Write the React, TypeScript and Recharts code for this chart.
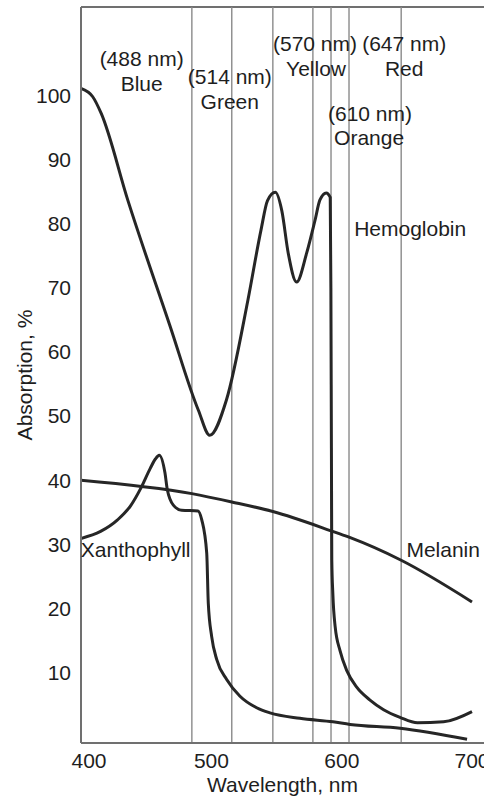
import { LineChart, Line, XAxis, YAxis, ReferenceLine, ReferenceDot } from 'recharts';

// wavelength (nm), absorption (%)
const hemoglobin: [number, number][] = [
  [400, 101.1], [409, 99.8], [415.5, 97.2], [436, 83.6], [468, 64.2], [490, 50.9],
  [498.7, 47.0], [511.5, 52.5], [528, 68.1], [538, 79.0], [543, 83.6], [549, 84.9],
  [554, 82.0], [558.9, 75.4], [565.3, 70.9], [573, 75.4], [579.4, 80.5], [583.2, 83.7],
  [588, 84.8], [591.1, 84.1], [591.6, 70], [592, 45], [592.3, 27.5], [593.1, 22.3],
  [594.9, 17.1], [598.6, 13.4], [603.8, 10.3], [611.4, 7.7], [621.6, 5.7], [632, 4.2],
  [644.6, 3.0], [658, 2.15], [678, 2.3], [699.8, 3.9],
];

const xanthophyll: [number, number][] = [
  [400, 30.9], [415, 32.0], [428, 33.8], [438, 36.0], [446, 38.8], [453, 41.8],
  [457, 43.3], [460, 43.9], [464.4, 41.1], [466.2, 38.5], [470.8, 36.1], [477.2, 35.3],
  [489.7, 35.2], [492.6, 33.8], [496.4, 28.6], [497.6, 20.8], [500.2, 15.6], [504.1, 12.0],
  [511.7, 8.9], [521.9, 6.3], [534.7, 4.5], [544.9, 3.7], [567.8, 2.85], [593.2, 2.3],
  [606.3, 1.9], [644.7, 1.3], [696, -0.42],
];

const melanin: [number, number][] = [
  [400, 40.0], [485, 37.9], [515.6, 36.6], [547.1, 35.1], [591.7, 32.1],
  [605.5, 31.1], [645.5, 27.5], [699.8, 21.0],
];

const laserLines = [485, 515.6, 547.1, 577.8, 591.7, 605.5, 645.5];

const xTicks = [400, 500, 600, 700];
const yTicks = [10, 20, 30, 40, 50, 60, 70, 80, 90, 100];

// text, wavelength, absorption at the text centre
const notes: [string, number, number][] = [
  ['(488 nm)', 446.5, 105.8], ['Blue', 446.5, 101.9],
  ['(514 nm)', 514.1, 103.0], ['Green', 514.1, 99.1],
  ['(570 nm)', 579.4, 108.1], ['Yellow', 580.2, 104.2],
  ['(647 nm)', 647.8, 108.1], ['Red', 647.8, 104.2],
  ['(610 nm)', 621.6, 97.2], ['Orange', 620.9, 93.5],
  ['Hemoglobin', 652.4, 79.3],
  ['Xanthophyll', 441.9, 29.2],
  ['Melanin', 677.7, 29.2],
];

const toRows = (pts: [number, number][]) => pts.map(([nm, v]) => ({ nm, v }));

const FONT = '"Liberation Sans", Arial, Helvetica, sans-serif';
const INK = '#1e1e1e';
const CURVE = '#262626';
const AXIS = '#707070';
const GRID = '#8a8a8a';
const Y_MIN = -1;
const Y_MAX = 113.8;

function XTick(props: any) {
  const { x, y, payload } = props;
  const dx = payload.value === 400 ? 8 : 0;
  return (
    <text x={x + dx} y={y} dy="0.71em" textAnchor="middle" fill={INK} fontSize={21} fontFamily={FONT}>
      {payload.value}
    </text>
  );
}

export default function App() {
  return (
    <div style={{ position: 'absolute', left: 0, top: 0, background: '#fff' }}>
      <LineChart
        width={484}
        height={807}
        margin={{ top: 7, right: 0, bottom: 0, left: 0 }}
        style={{ fontFamily: FONT }}
      >
        <XAxis
          type="number"
          dataKey="nm"
          domain={[400, 709]}
          ticks={xTicks}
          allowDataOverflow
          height={64}
          axisLine={{ stroke: AXIS, strokeWidth: 2 }}
          tickLine={false}
          tickSize={8}
          tickMargin={2}
          tick={<XTick />}
          label={{ value: 'Wavelength, nm', position: 'insideBottom', offset: 15, fill: INK, fontSize: 21 }}
        />
        <YAxis
          type="number"
          domain={[Y_MIN, Y_MAX]}
          ticks={yTicks}
          allowDataOverflow
          width={81}
          axisLine={{ stroke: AXIS, strokeWidth: 2 }}
          tickLine={false}
          tickSize={8}
          tickMargin={2}
          tick={{ fill: INK, fontSize: 21 }}
          label={{
            value: 'Absorption, %',
            angle: -90,
            position: 'insideLeft',
            offset: 25,
            fill: INK,
            fontSize: 21,
            style: { textAnchor: 'middle' },
          }}
        />
        <ReferenceLine y={Y_MAX} stroke={AXIS} strokeWidth={2} />
        {laserLines.map((nm) => (
          <ReferenceLine key={nm} x={nm} stroke={GRID} strokeWidth={1.4} />
        ))}
        <Line data={toRows(melanin)} dataKey="v" type="monotone" stroke={CURVE} strokeWidth={3} dot={false} isAnimationActive={false} />
        <Line data={toRows(xanthophyll)} dataKey="v" type="monotone" stroke={CURVE} strokeWidth={3} dot={false} isAnimationActive={false} />
        <Line data={toRows(hemoglobin)} dataKey="v" type="monotone" stroke={CURVE} strokeWidth={3} dot={false} isAnimationActive={false} />
        {notes.map(([text, nm, v]) => (
          <ReferenceDot
            key={text}
            x={nm}
            y={v}
            r={0}
            stroke="none"
            fill="none"
            label={{ value: text, position: 'center', fill: INK, fontSize: 21 }}
          />
        ))}
      </LineChart>
    </div>
  );
}
